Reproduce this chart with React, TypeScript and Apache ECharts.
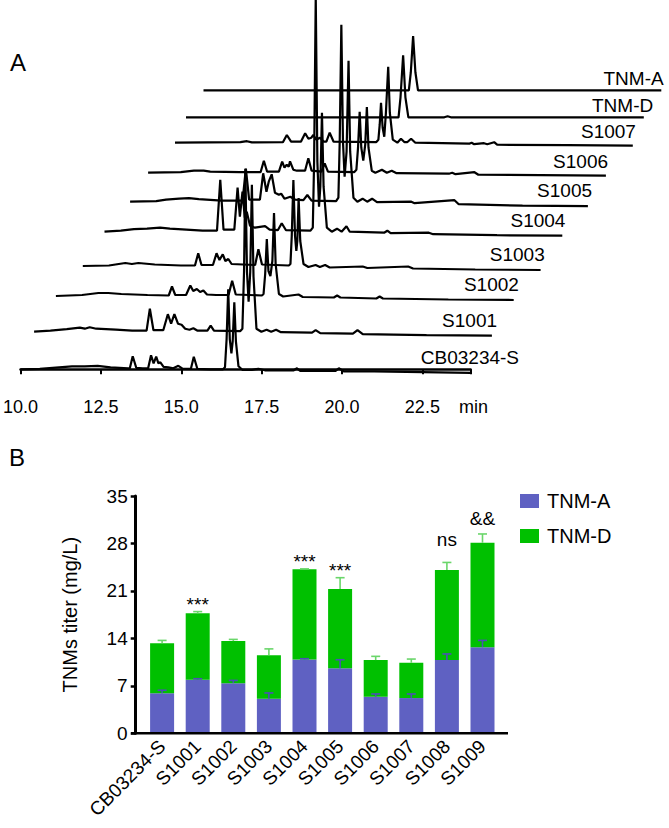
import React, { useEffect, useRef } from "react";
import * as echarts from "echarts";

// ---------- Panel A: chromatograms (time in min, intensity in arbitrary units) ----------
const traceNames = ["CB03234-S", "S1001", "S1002", "S1003", "S1004", "S1005", "S1006", "S1007", "TNM-D", "TNM-A"];

const cbTrace = [
  [10, 0], [10.6, 0.5], [11.2, 2], [11.6, 3], [12.0, 3], [12.4, 3.5], [12.8, 2], [13.35, 1],
  [13.4, 1], [13.49, 13], [13.6, 1.5], [13.8, 1],
  [13.97, 1], [14.06, 14], [14.14, 6], [14.22, 12.6], [14.29, 6], [14.35, 7], [14.45, 2.5], [14.6, 2], [14.75, 1],
  [14.91, 3.5], [15.05, 0.5], [15.3, 0.5], [15.39, 12.5], [15.5, 0.5], [15.9, 0], [16.3, 0],
  [16.36, 2], [16.41, 30], [16.46, 80], [16.51, 30], [16.56, 16], [16.6, 28], [16.65, 67], [16.7, 28], [16.78, 3],
  [16.9, -0.5], [17.2, -0.5], [17.4, 0.5], [17.6, -1], [18.5, -1], [18.6, 1], [18.7, -1.5], [19.8, -1.5],
  [19.9, 1], [20.05, -2], [21, -2], [22, -2.5], [23, -3], [24, -3.5],
];
const s1001Trace = [
  [10, 0], [10.5, 1], [11.0, 2.5], [11.4, 4], [11.55, 3], [11.7, 4.5], [11.9, 3], [12.5, 2], [13.0, 1], [13.44, 1],
  [13.54, 23], [13.65, 1.5], [13.95, 1.5], [14.09, 17.5], [14.19, 8], [14.29, 17.5], [14.4, 8], [14.51, 7], [14.62, 3],
  [14.75, 2], [14.87, 3.5], [15.0, 1], [15.3, 1], [15.4, 6], [15.5, 1], [16.3, 0.5],
  [16.37, 3], [16.42, 60], [16.46, 163], [16.51, 60], [16.56, 30], [16.61, 60], [16.66, 147], [16.71, 55], [16.8, 3],
  [16.95, 0], [17.11, 2], [17.25, 0], [17.4, 2], [17.55, -0.5], [18.5, -1], [18.61, 1.5], [18.75, -1.5], [19.75, -2],
  [19.89, 1.5], [20.05, -2.5], [21, -3], [22, -3.5], [24, -4],
];
const s1002Trace = [
  [10, 0], [10.8, 1], [11.3, 3], [11.6, 3], [12.0, 2], [12.8, 1], [13.45, 0.5],
  [13.55, 9.5], [13.65, 1], [13.98, 1], [14.11, 10.5], [14.2, 5], [14.31, 7], [14.41, 4], [14.51, 5.5], [14.62, 1.5],
  [14.9, 1], [15.28, 1], [15.39, 15.3], [15.5, 1.5], [16.3, 0.5],
  [16.35, 2], [16.4, 22], [16.45, 57], [16.5, 25], [16.56, 20], [16.62, 35], [16.67, 83], [16.72, 32], [16.82, 2],
  [16.95, -0.5], [17.42, 1.5], [17.55, -1], [18.5, -1.5], [18.6, 0.5], [18.7, -1.5], [19.8, -2.5], [19.9, -0.5],
  [20.0, -2.5], [22, -3.5], [24, -4],
];
const s1003Trace = [
  [10, 0], [10.8, 0.5], [11.3, 3], [11.5, 2], [11.7, 3], [12.2, 1.5], [13.0, 0.5], [13.43, 0.5],
  [13.53, 12.7], [13.63, 1], [13.98, 1], [14.09, 12.7], [14.18, 6], [14.28, 11.7], [14.36, 5], [14.45, 7], [14.55, 2],
  [14.9, 1.5], [15.27, 1], [15.37, 16.7], [15.48, 1.5], [16.3, 0.5],
  [16.35, 2], [16.39, 30], [16.44, 86], [16.49, 30], [16.53, 15], [16.56, 25], [16.6, 68], [16.65, 25], [16.75, 2],
  [16.9, -1], [17.12, 1], [17.25, -1], [17.41, 1], [17.55, -1.5], [18.56, -0.5], [18.7, -2], [19.95, -0.5],
  [20.1, -2.5], [22, -3.5], [24, -4],
];
const s1004Trace = [
  [10, 0], [10.5, 1], [10.9, 2.5], [11.3, 3], [11.7, 4], [12.0, 3], [12.5, 2], [13.0, 1], [13.44, 1],
  [13.54, 52], [13.64, 2], [13.97, 2], [14.07, 44], [14.14, 15], [14.22, 40], [14.29, 14], [14.35, 20], [14.45, 6],
  [14.6, 4], [14.91, 5.5], [15.05, 2], [15.3, 1.5], [15.42, 8.5], [15.55, 1.5], [16.3, 1],
  [16.37, 4], [16.41, 70], [16.46, 235], [16.51, 70], [16.56, 25], [16.6, 45], [16.65, 119], [16.7, 45], [16.8, 4],
  [16.95, 0], [17.11, 3], [17.25, 0], [17.4, 5.5], [17.5, 0], [18.55, -1], [18.65, 1], [18.75, -1.5], [19.92, -1],
  [20.05, -2.5], [22, -3.5], [24, -4],
];
const s1005Trace = [
  [10, 0], [10.8, 0.5], [11.1, 2], [11.5, 3], [11.8, 3.5], [12.1, 2.5], [12.8, 1], [13.44, 1],
  [13.54, 33], [13.64, 2], [13.97, 2], [14.07, 28.4], [14.17, 10], [14.24, 20], [14.33, 27.4], [14.43, 9], [14.55, 7],
  [14.62, 8], [14.72, 3], [14.9, 5], [15.05, 2], [15.3, 1.5], [15.42, 6.7], [15.55, 1], [16.3, 0.5],
  [16.37, 4], [16.41, 60], [16.46, 177], [16.51, 60], [16.56, 25], [16.62, 50], [16.68, 141], [16.73, 50], [16.83, 4],
  [16.95, 0], [17.11, 3], [17.25, 0], [17.4, 3], [17.55, -0.5], [18.6, 0], [18.7, -1.5], [19.92, 1.5], [20.05, -2.5],
  [22, -4], [24, -4.5],
];
const s1006Trace = [
  [10, 0], [11.0, 0.5], [11.4, 2], [11.7, 2], [11.9, 1], [12.8, 0.5], [13.44, 0.5],
  [13.54, 12], [13.64, 1], [14.0, 1], [14.1, 11], [14.17, 5], [14.24, 8], [14.3, 6], [14.34, 11.4], [14.44, 3],
  [14.55, 2], [14.8, 2], [14.9, 14.4], [15.0, 2], [15.3, 1], [15.4, 9.4], [15.5, 1], [16.3, 0.5],
  [16.37, 3], [16.42, 25], [16.47, 61], [16.52, 25], [16.58, 12], [16.64, 28], [16.69, 65.7], [16.74, 25], [16.84, 2],
  [16.95, 0], [17.15, 3], [17.3, 0], [17.45, 2], [17.6, -0.5], [19.2, -1], [19.3, 0], [19.4, -1.5], [19.98, 0.5],
  [20.1, -2], [22, -2.5], [24, -3],
];
const s1007Trace = [
  [10, 0], [11, 0.3], [12.0, 0.5], [12.2, 1.5], [12.35, 0.3], [13.3, 0.5],
  [13.42, 7.7], [13.55, 1], [13.85, 1], [13.98, 9.4], [14.08, 4], [14.17, 5], [14.23, 7.7], [14.32, 3], [14.43, 5],
  [14.55, 1], [14.63, 1], [14.73, 10], [14.85, 1], [16.15, 0.5],
  [16.22, 3], [16.26, 18], [16.3, 40], [16.35, 15], [16.4, 6], [16.45, 30], [16.52, 76], [16.57, 30], [16.66, 3],
  [16.8, 0], [16.91, 4], [17.02, 0.5], [17.1, 0.5], [17.22, 4], [17.35, 0], [19.0, -1], [19.07, 0], [19.15, -1.5],
  [19.45, -0.5], [19.55, -1.5], [19.76, 0.5], [19.85, -2], [22, -2.5], [24, -3],
];
const tnmDTrace = [
  [10, 0], [16.5, 0], [16.56, 20], [16.64, 62], [16.71, 20], [16.8, 0], [17.9, 0], [18.0, 1], [18.1, 0], [24, 0],
];
const tnmATrace = [
  [10, 0], [16.28, 0], [16.34, 20], [16.41, 60], [16.48, 20], [16.56, 0], [24, 0],
];
const traces = [cbTrace, s1001Trace, s1002Trace, s1003Trace, s1004Trace, s1005Trace, s1006Trace, s1007Trace, tnmDTrace, tnmATrace];
const timeTicks = [10, 12.5, 15, 17.5, 20, 22.5];

// ---------- Panel B: titers (mg/L) ----------
const strains = ["CB03234-S", "S1001", "S1002", "S1003", "S1004", "S1005", "S1006", "S1007", "S1008", "S1009"];
const tnmA = [5.9, 7.9, 7.4, 5.1, 10.9, 9.6, 5.4, 5.2, 10.8, 12.7];
const tnmD = [7.4, 9.8, 6.2, 6.4, 13.3, 11.7, 5.4, 5.2, 13.3, 15.4];
const errA = [0.45, 0.15, 0.4, 0.85, 0.1, 1.25, 0.4, 0.6, 0.9, 1.0];
const errD = [0.4, 0.25, 0.25, 0.95, 0.05, 1.65, 0.55, 0.55, 1.1, 1.3];
const marks = ["", "***", "", "", "***", "***", "", "", "ns", "&&"];
const titerTicks = [0, 7, 14, 21, 28, 35];

const FONT = "'Liberation Sans', Arial, Helvetica, sans-serif";
const BLUE = "#5F61C2";
const GREEN = "#00C000";

// layout (pixels)
const traceLeft = [12.8, 34.1, 55.9, 82.8, 104.5, 130.1, 148.1, 175, 186, 203.5];
const traceBase = [369.3, 331.7, 296, 266, 231.7, 201.7, 172.7, 142.7, 117.3, 90.3];
const labelShift = [408, 408, 408, 407, 406, 407, 405, 406, 406, 400];
const traceWidth = 457.8;
const unitPx = 100;

export default function App() {
  const ref = useRef<HTMLDivElement>(null);
  useEffect(() => {
    if (!ref.current) return;
    const chart = echarts.init(ref.current, undefined, { renderer: "svg" });

    const grids: any[] = [];
    const xAxes: any[] = [];
    const yAxes: any[] = [];
    const series: any[] = [];
    const graphics: any[] = [];

    traces.forEach((tr, i) => {
      grids.push({ left: traceLeft[i], top: traceBase[i] - unitPx, width: traceWidth, height: unitPx });
      const isFront = i === 0;
      xAxes.push({
        gridIndex: i, type: "value", min: 10, max: 24, interval: 2.5,
        show: isFront, offset: 17,
        axisLine: { show: isFront, lineStyle: { color: "#000", width: 2.5 } },
        axisTick: { show: isFront, length: 5, lineStyle: { color: "#000", width: 2 } },
        splitLine: { show: false },
        axisLabel: {
          show: isFront, fontSize: 18, color: "#000", fontFamily: FONT, margin: 12,
          formatter: (v: number) => (timeTicks.indexOf(v) >= 0 ? v.toFixed(1) : ""),
        },
      });
      yAxes.push({ gridIndex: i, type: "value", min: 0, max: unitPx, show: false, splitLine: { show: false } });
      series.push({
        type: "line", xAxisIndex: i, yAxisIndex: i, data: tr, showSymbol: false, symbol: "none",
        clip: false, silent: true, z: 10 - i,
        lineStyle: { color: "#000", width: 2.2 },
      });
      graphics.push({
        type: "text", left: traceLeft[i] + labelShift[i], top: traceBase[i] - 21,
        style: { text: traceNames[i], fontSize: 19, fill: "#000", fontFamily: FONT },
      });
    });

    // Panel B
    const gB = traces.length;
    grids.push({ left: 144.3, top: 496, width: 356, height: 237.3 });
    xAxes.push({
      gridIndex: gB, type: "category", data: strains,
      axisLine: { show: false },
      axisTick: { alignWithLabel: true, length: 6, lineStyle: { color: "#000", width: 2.5 } },
      axisLabel: { rotate: 45, fontSize: 19, color: "#000", fontFamily: FONT, margin: 10, interval: 0 },
    });
    yAxes.push({
      gridIndex: gB, type: "value", min: 0, max: 35, interval: 7, offset: 8.6,
      name: "TNMs titer (mg/L)", nameLocation: "middle", nameGap: 56, nameRotate: 90,
      nameTextStyle: { fontSize: 20, color: "#000", fontFamily: FONT },
      axisLine: { show: true, lineStyle: { color: "#000", width: 3 } },
      axisTick: { show: true, length: 5, lineStyle: { color: "#000", width: 2.5 } },
      splitLine: { show: false },
      axisLabel: {
        fontSize: 19, color: "#000", fontFamily: FONT, margin: 8,
        formatter: (v: number) => (titerTicks.indexOf(v) >= 0 ? String(v) : ""),
      },
    });
    const xB = xAxes.length - 1;
    const yB = yAxes.length - 1;
    series.push({
      name: "TNM-A", type: "bar", stack: "titer", xAxisIndex: xB, yAxisIndex: yB, data: tnmA,
      barWidth: 24, itemStyle: { color: BLUE }, z: 2,
    });
    series.push({
      name: "TNM-D", type: "bar", stack: "titer", xAxisIndex: xB, yAxisIndex: yB, data: tnmD,
      barWidth: 24, itemStyle: { color: GREEN }, z: 2,
    });
    const errRender = (color: string) => (params: any, api: any) => {
      const i = api.value(0);
      const top = api.value(1);
      const e = api.value(2);
      const p0 = api.coord([i, top]);
      const p1 = api.coord([i, top + e]);
      return {
        type: "group",
        children: [
          { type: "line", shape: { x1: p0[0], y1: p0[1], x2: p1[0], y2: p1[1] }, style: { stroke: color, lineWidth: 1.6 } },
          { type: "line", shape: { x1: p1[0] - 4.5, y1: p1[1], x2: p1[0] + 4.5, y2: p1[1] }, style: { stroke: color, lineWidth: 1.6 } },
        ],
      };
    };
    series.push({
      type: "custom", xAxisIndex: xB, yAxisIndex: yB, z: 5, silent: true,
      data: strains.map((_, i) => [i, tnmA[i], errA[i]]),
      renderItem: errRender("#4C4FB5"),
    });
    series.push({
      type: "custom", xAxisIndex: xB, yAxisIndex: yB, z: 5, silent: true,
      data: strains.map((_, i) => [i, tnmA[i] + tnmD[i], errD[i]]),
      renderItem: errRender("#6AD66A"),
    });
    series.push({
      type: "custom", xAxisIndex: xB, yAxisIndex: yB, z: 6, silent: true,
      data: strains.map((_, i) => [i, tnmA[i] + tnmD[i] + errD[i]]),
      renderItem: (params: any, api: any) => {
        const idx = params.dataIndex;
        const m = marks[idx];
        if (!m) return null;
        const p = api.coord([api.value(0), api.value(1)]);
        const gap = m === "***" ? -2 : m === "ns" ? 13 : 6;
        return {
          type: "text", x: p[0], y: p[1] - gap,
          style: {
            text: m, fontSize: 19, fill: "#000", fontFamily: FONT,
            align: "center", verticalAlign: "bottom", textAlign: "center", textVerticalAlign: "bottom",
          },
        };
      },
    });

    graphics.push({ type: "text", left: 10, top: 50, style: { text: "A", fontSize: 24, fill: "#000", fontFamily: FONT } });
    graphics.push({ type: "text", left: 9, top: 445, style: { text: "B", fontSize: 24, fill: "#000", fontFamily: FONT } });
    graphics.push({ type: "text", left: 459, top: 398, style: { text: "min", fontSize: 18, fill: "#000", fontFamily: FONT } });
    graphics.push({
      type: "line", shape: { x1: 131, y1: 733.3, x2: 508, y2: 733.3 },
      style: { stroke: "#000", lineWidth: 2.5 }, z: 10,
    });

    chart.setOption({
      animation: false,
      backgroundColor: "#fff",
      grid: grids,
      xAxis: xAxes,
      yAxis: yAxes,
      series,
      legend: {
        data: ["TNM-A", "TNM-D"], orient: "vertical", left: 515, top: 486,
        itemWidth: 19, itemHeight: 14, itemGap: 15, icon: "rect",
        textStyle: { fontSize: 20, color: "#000", fontFamily: FONT, padding: [0, 0, 0, 3] },
      },
      graphic: graphics,
    });
    return () => chart.dispose();
  }, []);
  return (
    <div
      ref={ref}
      style={{ position: "fixed", left: 0, top: 0, width: 669, height: 828, background: "#fff" }}
    />
  );
}
